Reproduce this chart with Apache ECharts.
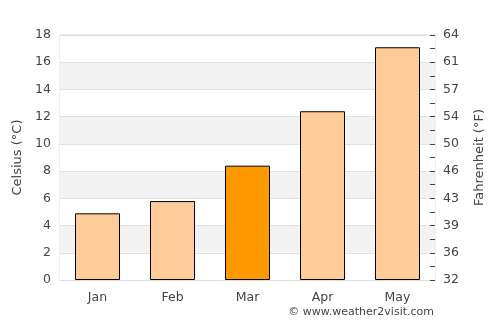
<!DOCTYPE html>
<html>
<head>
<meta charset="utf-8">
<script src="https://cdn.jsdelivr.net/npm/echarts@6/dist/echarts.min.js"></script>
<style>
  html, body { margin: 0; padding: 0; background: #fff; }
  #main { width: 500px; height: 325px; }
</style>
</head>
<body>
<div id="main"></div>
<script>
var months = ["Jan", "Feb", "Mar", "Apr", "May"];
var celsius = [4.9, 5.8, 8.4, 12.4, 17.1];
var highlight = 2; // Mar
var fahrenheitLabels = ["32", "36", "39", "43", "46", "50", "54", "57", "61", "64"];

var chartDom = document.getElementById("main");
var myChart = echarts.init(chartDom);
var font = "DejaVu Sans";

var option = {
  animation: false,
  grid: { left: 60, right: 65, top: 35, bottom: 45, show: true, borderColor: "#dddddd", borderWidth: 1 },
  xAxis: {
    type: "category",
    data: months,
    axisLine: { lineStyle: { color: "#dddddd" } },
    axisTick: { show: false },
    axisLabel: { color: "#444", fontFamily: font, fontSize: 12.5, margin: 11 },
  },
  yAxis: [
    {
      type: "value",
      min: 0,
      max: 18,
      interval: 2,
      name: "Celsius (°C)",
      nameLocation: "middle",
      nameGap: 35,
      nameTextStyle: { color: "#444", fontFamily: font, fontSize: 13 },
      axisLine: { show: false },
      axisTick: { show: false },
      axisLabel: { color: "#444", fontFamily: font, fontSize: 12.5, margin: 9 },
      splitLine: { lineStyle: { color: "#e0e0e0" } },
      splitArea: { show: true, areaStyle: { color: ["#ffffff", "#f2f2f2"] } },
    },
    {
      type: "value",
      position: "right",
      min: 0,
      max: 18,
      interval: 2,
      name: "Fahrenheit (°F)",
      nameLocation: "middle",
      nameGap: 38,
      nameTextStyle: { color: "#444", fontFamily: font, fontSize: 13 },
      axisLine: { show: false },
      axisTick: { show: true, inside: true, length: 5, lineStyle: { color: "#444" } },
      minorTick: { show: true, splitNumber: 2, length: 5, lineStyle: { color: "#444" } },
      axisLabel: {
        color: "#444", fontFamily: font, fontSize: 12.5, margin: 8,
        formatter: function (v) { return fahrenheitLabels[Math.round(v / 2)]; },
      },
      splitLine: { show: false },
    },
  ],
  series: [
    {
      type: "bar",
      data: celsius.map(function (v, i) {
        return { value: v, itemStyle: { color: i === highlight ? "#ff9900" : "#ffcc99" } };
      }),
      barWidth: "60%",
      itemStyle: { borderColor: "#000", borderWidth: 1 },
    },
  ],
  graphic: [
    {
      type: "text",
      right: 66,
      top: 307,
      style: { text: "© www.weather2visit.com", fill: "#444", font: "11px DejaVu Sans" },
    },
  ],
};

option && myChart.setOption(option);
</script>
</body>
</html>
